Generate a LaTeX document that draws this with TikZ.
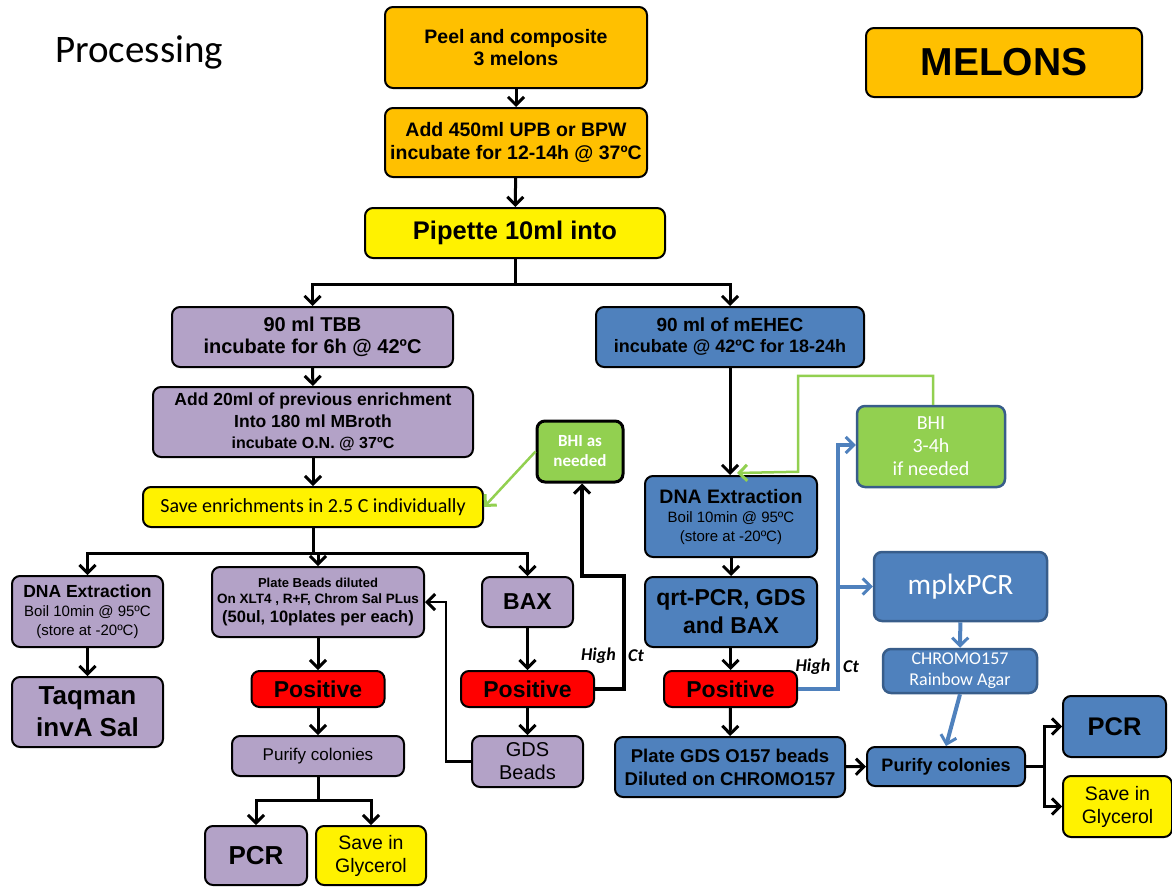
\documentclass[tikz,border=0pt]{standalone}
\usepackage{fontspec}
\setmainfont{Liberation Sans}
\newfontfamily\calibfont{Carlito}
\usetikzlibrary{arrows.meta}
\newcommand{\setfs}[2]{\fontsize{#1}{#2}\selectfont}
\definecolor{melon}{HTML}{FFC000}
\definecolor{lilac}{HTML}{B3A2C7}
\definecolor{steel}{HTML}{4F81BD}
\definecolor{steeldark}{HTML}{385D8A}
\definecolor{leaf}{HTML}{92D050}

\begin{document}
\begin{tikzpicture}[x=1pt, y=-1pt]
    \tikzstyle{every node}=[align=center, inner sep=0pt]
    \tikzstyle{box}=[draw=black, line width=2pt, rounded corners=8pt]
    \tikzstyle{melonbox}=[box, fill=melon]
    \tikzstyle{lilacbox}=[box, fill=lilac]
    \tikzstyle{bluebox}=[box, fill=steel]
    \tikzstyle{yellowbox}=[box, fill=yellow]
    \tikzstyle{redbox}=[box, fill=red, minimum width=133pt, minimum height=36pt, font=\bfseries\setfs{23}{26}]
    \tikzstyle{greenbox}=[box, fill=leaf, text=white]
    \tikzstyle{paleblue}=[box, fill=steel, draw=steeldark, line width=2.5pt, text=white]
    \tikzstyle{arr}=[line width=3pt, -{Straight Barb[length=8pt,width=16pt,line width=3pt]}]
    \tikzstyle{thickarr}=[arr, line width=4.5pt]
    \tikzstyle{thinarr}=[arr, line width=2.2pt]
    \tikzstyle{greenarr}=[arr, draw=leaf, line width=2.5pt]
    \tikzstyle{bluearr}=[arr, draw=steel, line width=4pt]
    \tikzstyle{hilabel}=[font=\calibfont\bfseries\itshape\setfs{18}{20}]
    \useasboundingbox (0,0) rectangle (1172,886);

    \node[anchor=base west, font=\calibfont\setfs{39}{42}] (title) at (55,62) {Processing};
    \node[melonbox, minimum width=276pt, minimum height=69pt, font=\bfseries\setfs{39}{42}] (melons) at (1004,62.5) {MELONS};

    \node[melonbox, minimum width=262pt, minimum height=81pt, font=\bfseries\setfs{19.5}{22}] (peel) at (516,47.5) {Peel and composite\\3 melons};
    \node[melonbox, minimum width=262pt, minimum height=69pt, font=\bfseries\setfs{19.5}{23}] (addupb) at (516,142.5) {Add 450ml UPB or BPW\\incubate for 12-14h @ 37ºC};
    \node[yellowbox, minimum width=300pt, minimum height=50pt, font=\bfseries\setfs{25.5}{28}] (pipette) at (515,233) {Pipette 10ml into};

    \node[lilacbox, minimum width=281pt, minimum height=60pt, font=\bfseries\setfs{20}{22}] (tbb) at (312.5,337) {90 ml TBB\\incubate for 6h @ 42ºC};
    \node[lilacbox, minimum width=320pt, minimum height=70pt, font=\bfseries\setfs{17.5}{21.5}] (mbroth) at (313,422) {Add 20ml of previous enrichment\\Into 180 ml MBroth\\{\setfs{16}{21}incubate O.N. @ 37ºC}};
    \node[yellowbox, minimum width=340pt, minimum height=40pt, font=\calibfont\setfs{20}{22}] (saveenr) at (313,507) {Save enrichments in 2.5 C individually};
    \node[greenbox, line width=3pt, minimum width=86pt, minimum height=61pt, font=\calibfont\bfseries\setfs{17}{20}] (bhil) at (580,451.5) {BHI as\\needed};

    \node[lilacbox, minimum width=151pt, minimum height=71pt, font=\setfs{15}{19}] (dnal) at (87.5,611.5) {{\bfseries\setfs{17.5}{19}DNA Extraction}\\Boil 10min @ 95ºC\\(store at -20ºC)};
    \node[lilacbox, minimum width=151pt, minimum height=70pt, font=\bfseries\setfs{26}{32}] (taqman) at (87.5,712) {Taqman\\invA Sal};
    \node[lilacbox, minimum width=212pt, minimum height=70pt, font=\bfseries\setfs{13.5}{16}] (plate) at (318,602) {{\setfs{13}{16}Plate Beads diluted}\\On XLT4 , R+F, Chrom Sal PLus\\[3pt]{\setfs{16.5}{16}(50ul, 10plates per each)}};
    \node[redbox] (posl) at (318,689) {Positive};
    \node[lilacbox, minimum width=172pt, minimum height=40pt, font=\setfs{17}{20}] (purl) at (318,756) {Purify colonies};
    \node[lilacbox, minimum width=102pt, minimum height=59pt, font=\bfseries\setfs{26}{30}] (pcrl) at (256,855.5) {PCR};
    \node[yellowbox, minimum width=110pt, minimum height=59pt, font=\setfs{19.5}{23}] (glyl) at (371,855.5) {Save in\\Glycerol};

    \node[lilacbox, minimum width=91pt, minimum height=50pt, font=\bfseries\setfs{23}{26}] (bax) at (527.5,602) {BAX};
    \node[redbox] (posm) at (527.5,689) {Positive};
    \node[lilacbox, minimum width=111pt, minimum height=51pt, font=\setfs{20}{23}] (gds) at (527.5,761.5) {GDS\\Beads};

    \node[bluebox, minimum width=268pt, minimum height=60pt, font=\bfseries\setfs{19}{21}] (mehec) at (730,337) {90 ml of mEHEC\\{\setfs{18}{21}incubate @ 42ºC for 18-24h}};
    \node[bluebox, minimum width=172pt, minimum height=81pt, font=\setfs{15}{19}] (dnar) at (731,516.5) {{\bfseries\setfs{19.5}{20}DNA Extraction}\\Boil 10min @ 95ºC\\(store at -20ºC)};
    \node[bluebox, minimum width=172pt, minimum height=70pt, font=\bfseries\setfs{23}{28}] (qrt) at (731,612) {qrt-PCR, GDS\\and BAX};
    \node[redbox] (posr) at (730.5,689) {Positive};
    \node[bluebox, minimum width=230pt, minimum height=60pt, font=\bfseries\setfs{18.5}{23}] (plater) at (730,767) {Plate GDS O157 beads\\Diluted on CHROMO157};
    \node[bluebox, minimum width=158pt, minimum height=39pt, font=\bfseries\setfs{18}{20}] (purr) at (946,766.5) {Purify colonies};
    \node[bluebox, minimum width=103pt, minimum height=61pt, font=\bfseries\setfs{25.5}{30}] (pcrr) at (1114.5,726.5) {PCR};
    \node[yellowbox, minimum width=109pt, minimum height=61pt, font=\setfs{19.5}{23}] (glyr) at (1117.5,806.5) {Save in\\Glycerol};

    \node[greenbox, draw=steeldark, line width=2.5pt, minimum width=148pt, minimum height=81pt, font=\calibfont\setfs{20}{23}] (bhir) at (931,446.5) {BHI\\3-4h\\if needed};
    \node[paleblue, minimum width=173pt, minimum height=69pt, font=\calibfont\setfs{29.5}{32}] (mplx) at (960.5,586.5) {mplxPCR};
    \node[paleblue, minimum width=154pt, minimum height=44pt, font=\calibfont\setfs{18}{21}] (chromo) at (960,671) {CHROMO157\\Rainbow Agar};

    \node[hilabel] (hi1) at (598.5,656) {High};
    \node[hilabel] (ct1) at (636,656) {Ct};
    \node[hilabel] (hi2) at (813,667) {High};
    \node[hilabel] (ct2) at (851,667) {Ct};
    \coordinate (gtip) at (737,473);

    \draw[arr] (peel) -- (addupb);
    \draw[arr] (addupb) -- (pipette);
    \draw[arr] (pipette.south) -- ++(0,25) -| (tbb.north);
    \draw[arr] (pipette.south) -- ++(0,25) -| (mehec.north);
    \draw[arr] (tbb) -- (mbroth);
    \draw[arr] (mbroth) -- (saveenr);
    \draw[arr] (saveenr.south) -- ++(0,25) -| (dnal.north);
    \draw[arr] (saveenr.south) -- ++(0,25) -| (plate.north);
    \draw[arr] (saveenr.south) -- ++(0,25) -| (bax.north);
    \draw[arr] (dnal) -- (taqman);
    \draw[arr] (plate) -- (posl);
    \draw[arr] (posl) -- (purl);
    \draw[arr] (purl.south) -- ++(0,23) -| (pcrl.north);
    \draw[arr] (purl.south) -- ++(0,23) -| (glyl.north);
    \draw[arr] (bax) -- (posm);
    \draw[arr] (posm) -- (gds);
    \draw[thinarr] (gds.west) -- ++(-25,0) |- (plate.east);
    \draw[thickarr] (posm.east) -- ++(29,0) -- ++(0,-113) -| ([xshift=2pt]bhil.south);
    \draw[greenarr] (bhil.west) -- (saveenr.east);

    \draw[arr] (mehec.south) -- (mehec.south |- dnar.north);
    \draw[greenarr] ([xshift=2pt]bhir.north) -- ++(0,-29) -| ++(-135,96) -- (gtip);
    \draw[arr] (dnar) -- (qrt);
    \draw[arr] (qrt.south -| posr.north) -- (posr.north);
    \draw[arr] (posr) -- (plater);
    \draw[bluearr] (posr.east) -- ++(40,0) coordinate (bj) |- ([yshift=1.5pt]bhir.west);
    \draw[bluearr] (bj |- mplx.west) -- (mplx.west);
    \draw[bluearr] (mplx) -- (chromo);
    \draw[bluearr] (chromo.south) -- (purr.north);
    \draw[arr] (plater) -- (purr);
    \draw[arr] (purr.east) -- ++(18,0) |- (pcrr.west);
    \draw[arr] (purr.east) -- ++(18,0) |- (glyr.west);
\end{tikzpicture}
\end{document}
